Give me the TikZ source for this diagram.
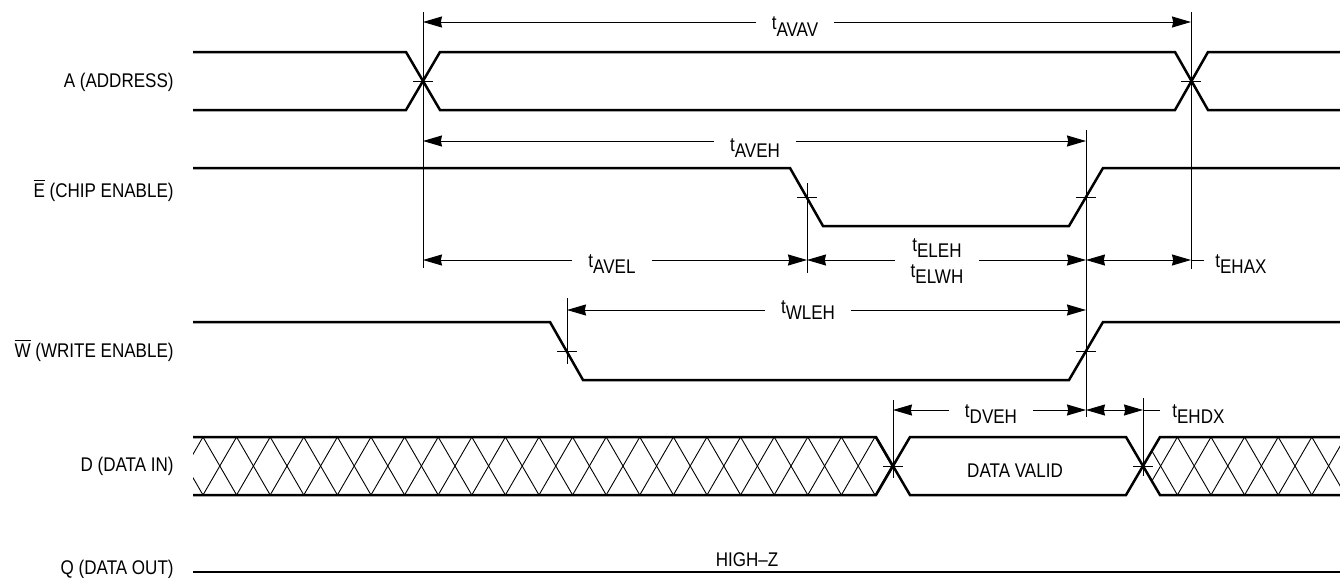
\documentclass[tikz,border=0pt]{standalone}
\usepackage{fontspec}
\setmainfont[FakeStretch=0.86]{Liberation Sans}
\usetikzlibrary{arrows.meta}

\newcommand{\tlab}[1]{t\raisebox{-3pt}{#1}}

\tikzset{
	wave/.style={line width=1.25pt},
	guide/.style={line width=0.5pt},
	span/.style={line width=0.5pt,{Stealth[length=9.5pt,width=5.5pt,inset=0.6pt]}-{Stealth[length=9.5pt,width=5.5pt,inset=0.6pt]}},
	sig/.style={anchor=base east,inner sep=0pt},
	tm/.style={anchor=base,fill=white,inner xsep=8pt,inner ysep=2pt},
	tmfree/.style={anchor=base west,inner sep=0pt},
	hatchline/.style={line width=0.45pt},
}

\begin{document}
\begin{tikzpicture}[x=0.5pt,y=-0.5pt,font=\fontsize{9.9}{13.3}\selectfont]
	\useasboundingbox (0,0) rectangle (1340,578);

	% edge instants
	\coordinate (a1) at (423,81);
	\coordinate (a2) at (1191,81);
	\coordinate (e1) at (807,197);
	\coordinate (e2) at (1086,197);
	\coordinate (w1) at (567,351);
	\coordinate (w2) at (1086,351);
	\coordinate (d1) at (893,466);
	\coordinate (d2) at (1143,466);

	% signal names
	\node [sig] (nA) at (174,87) {A (ADDRESS)};
	\node [sig] (nE) at (174,197) {$\overline{\mbox{E}}$ (CHIP ENABLE)};
	\node [sig] (nW) at (174,357) {$\overline{\mbox{W}}$ (WRITE ENABLE)};
	\node [sig] (nD) at (174,471) {D (DATA IN)};
	\node [sig] (nQ) at (174,574) {Q (DATA OUT)};

	% hatching (data don't care)
	\begin{scope}
		\clip (193,437) -- (876,437) -- (d1) -- (876,495) -- (193,495) -- cycle;
		\foreach \k in {0,...,22} {
			\draw [hatchline] (169.4+33.6*\k,437) -- (203+33.6*\k,495);
			\draw [hatchline] (169.4+33.6*\k,495) -- (203+33.6*\k,437);
		}
	\end{scope}
	\begin{scope}
		\clip (d2) -- (1160,437) -- (1340,437) -- (1340,495) -- (1160,495) -- cycle;
		\foreach \k in {28,...,35} {
			\draw [hatchline] (169.4+33.6*\k,437) -- (203+33.6*\k,495);
			\draw [hatchline] (169.4+33.6*\k,495) -- (203+33.6*\k,437);
		}
	\end{scope}

	% waveforms
	\draw [wave] (193,52) -- (406,52) -- (440,110) -- (1175,110) -- (1208,52) -- (1340,52);
	\draw [wave] (193,110) -- (406,110) -- (440,52) -- (1175,52) -- (1208,110) -- (1340,110);
	\draw [wave] (193,168) -- (790,168) -- (823,226) -- (1069,226) -- (1103,168) -- (1340,168);
	\draw [wave] (193,322) -- (550,322) -- (583,380) -- (1069,380) -- (1103,322) -- (1340,322);
	\draw [wave] (193,437) -- (876,437) -- (910,495) -- (1126,495) -- (1160,437) -- (1340,437);
	\draw [wave] (193,495) -- (876,495) -- (910,437) -- (1126,437) -- (1160,495) -- (1340,495);
	\draw [wave] (193,572) -- (1340,572);

	% crossing ticks
	\foreach \p in {a1,a2,e1,e2,w1,w2,d1,d2}
		\draw [guide] (\p) +(-10,0) -- +(10,0);

	% reference lines
	\draw [guide] (a1 |- 0,12) -- (a1 |- 0,268);
	\draw [guide] (a2 |- 0,12) -- (a2 |- 0,269);
	\draw [guide] (e1 |- 0,183) -- (e1 |- 0,273);
	\draw [guide] (e2 |- 0,130) -- (e2 |- 0,417);
	\draw [guide] (w1 |- 0,298) -- (w1 |- 0,364);
	\draw [guide] (d1 |- 0,400) -- (d1 |- 0,478);
	\draw [guide] (d2 |- 0,398) -- (d2 |- 0,476);

	% timing spans
	\draw [span] (a1 |- 0,22) -- (a2 |- 0,22);
	\draw [span] (a1 |- 0,141) -- (e2 |- 0,141);
	\draw [span] (a1 |- 0,260) -- (e1 |- 0,260);
	\draw [span] (e1 |- 0,260) -- (e2 |- 0,260);
	\draw [span] (e2 |- 0,260) -- (a2 |- 0,260);
	\draw [guide] (a2 |- 0,260) -- +(13,0);
	\draw [span] (w1 |- 0,310) -- (w2 |- 0,310);
	\draw [span] (d1 |- 0,410) -- (e2 |- 0,410);
	\draw [span] (e2 |- 0,410) -- (d2 |- 0,410);
	\draw [guide] (d2 |- 0,410) -- +(17,0);

	% timing names
	\node [tm] (tavav) at (795,30) {\tlab{AVAV}};
	\node [tm] (taveh) at (755,151) {\tlab{AVEH}};
	\node [tm] (tavel) at (612,267) {\tlab{AVEL}};
	\node [tm] (teleh) at (937,251) {\tlab{ELEH}};
	\node [tm] (telwh) at (937,277) {\tlab{ELWH}};
	\node [tmfree] (tehax) at (1215,267) {\tlab{EHAX}};
	\node [tm] (twleh) at (808,313) {\tlab{WLEH}};
	\node [tm] (tdveh) at (991,417) {\tlab{DVEH}};
	\node [tmfree] (tehdx) at (1172,417) {\tlab{EHDX}};

	\node [anchor=base] (valid) at (1015,477) {DATA VALID};
	\node [anchor=base] (hiz) at (747,566) {HIGH--Z};
\end{tikzpicture}
\end{document}
